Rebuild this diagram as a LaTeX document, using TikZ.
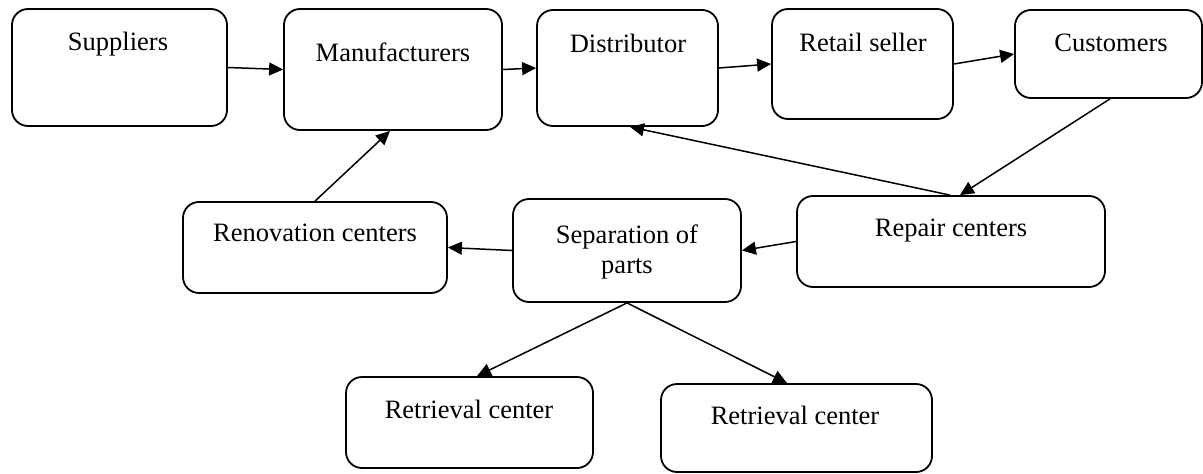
\documentclass[tikz,border=0pt]{standalone}
\usepackage{fontspec}
\setmainfont{Liberation Serif}
\usetikzlibrary{arrows.meta}
\begin{document}
\begin{tikzpicture}[x=1pt,y=-1pt,
  box/.style={draw, line width=1.8pt, rounded corners=16pt, inner sep=0pt},
  txt/.style={anchor=base, inner sep=0pt, font=\fontsize{26.5}{32}\selectfont},
  link/.style={line width=1.5pt, -{Triangle[length=14pt,width=13pt]}}]
\useasboundingbox (0,0) rectangle (1203,474);
% boxes (centre and size)
\node[box, minimum width=215pt, minimum height=117pt] (sup) at (119.5,67.5) {};
\node[box, minimum width=218pt, minimum height=121pt] (man) at (393,69.5) {};
\node[box, minimum width=181pt, minimum height=116pt] (dis) at (627.5,68) {};
\node[box, minimum width=181pt, minimum height=110pt] (ret) at (862.5,64) {};
\node[box, minimum width=187pt, minimum height=88pt] (cus) at (1108.5,54) {};
\node[box, minimum width=264pt, minimum height=91pt] (ren) at (315,247.5) {};
\node[box, minimum width=228pt, minimum height=103pt] (sep) at (627,250.5) {};
\node[box, minimum width=308pt, minimum height=91pt] (rep) at (951,241.5) {};
\node[box, minimum width=247pt, minimum height=91pt] (rt1) at (469.5,422.5) {};
\node[box, minimum width=271pt, minimum height=88pt] (rt2) at (796.5,428) {};
% labels
\node[txt] (tsup) at (118,50.7) {Suppliers};
\node[txt] (tman) at (393,61) {Manufacturers};
\node[txt] (tdis) at (628,52) {Distributor};
\node[txt] (tret) at (863,51) {Retail seller};
\node[txt] (tcus) at (1111,51) {Customers};
\node[txt] (tren) at (315,241.7) {Renovation centers};
\node[txt] (tsep1) at (627,243) {Separation of};
\node[txt] (tsep2) at (627,273) {parts};
\node[txt] (trep) at (951,236) {Repair centers};
\node[txt] (trt1) at (469,418) {Retrieval center};
\node[txt] (trt2) at (795,424) {Retrieval center};
% connectors
\draw[link] (sup.east) -- (man.west);
\draw[link] (man.east) -- (dis.west);
\draw[link] (dis.east) -- (ret.west);
\draw[link] (ret.east) -- (cus.west);
\draw[link] ([xshift=1.5pt]cus.south) -- ([xshift=9pt]rep.north);
\draw[link] ([xshift=-1pt]rep.north) -- ([xshift=2.5pt]dis.south);
\draw[link] (rep.west) -- (sep.east);
\draw[link] (sep.west) -- (ren.east);
\draw[link] (ren.north) -- ([xshift=-3pt]man.south);
\draw[link] (sep.south) -- ([xshift=7.5pt]rt1.north);
\draw[link] (sep.south) -- ([xshift=-9.5pt]rt2.north);
\end{tikzpicture}
\end{document}
